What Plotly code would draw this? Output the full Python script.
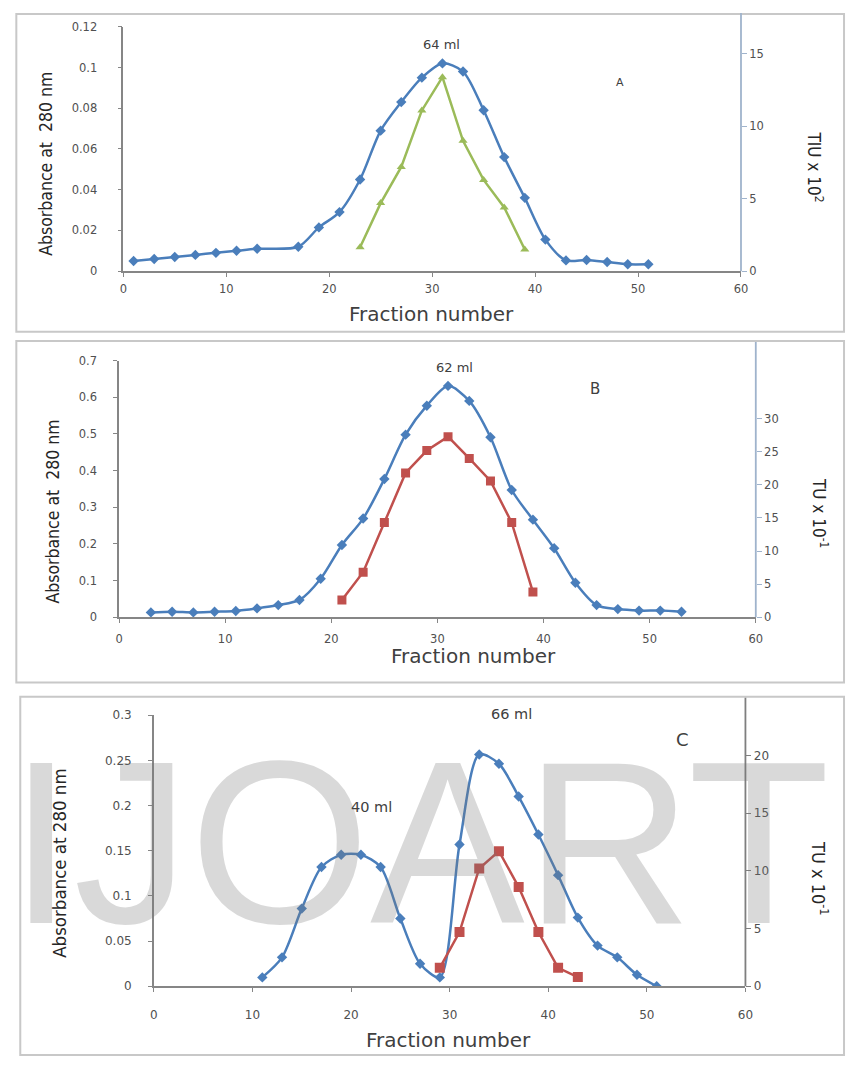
import plotly.graph_objects as go

W, H = 854, 1066

# ---------------- data ----------------
# Panel A
a_abs_x = [1, 3, 5, 7, 9, 11, 13, 17, 19, 21, 23, 25, 27, 29, 31, 33, 35, 37, 39, 41, 43, 45, 47, 49, 51]
a_abs_y = [0.005, 0.006, 0.007, 0.008, 0.009, 0.010, 0.011, 0.012, 0.0215, 0.029, 0.045, 0.069, 0.083,
           0.095, 0.102, 0.098, 0.079, 0.056, 0.036, 0.0155, 0.0053, 0.0055, 0.0045, 0.0034, 0.0034]
a_act_x = [23, 25, 27, 29, 31, 33, 35, 37, 39]
a_act_y = [1.65, 4.7, 7.2, 11.1, 13.4, 9.0, 6.3, 4.4, 1.5]

# Panel B
b_abs_x = [3, 5, 7, 9, 11, 13, 15, 17, 19, 21, 23, 25, 27, 29, 31, 33, 35, 37, 39, 41, 43, 45, 47, 49, 51, 53]
b_abs_y = [0.013, 0.015, 0.013, 0.015, 0.017, 0.024, 0.033, 0.047, 0.105, 0.197, 0.269, 0.377, 0.498,
           0.577, 0.631, 0.590, 0.491, 0.347, 0.266, 0.188, 0.094, 0.033, 0.022, 0.018, 0.018, 0.015]
b_act_x = [21, 23, 25, 27, 29, 31, 33, 35, 37, 39]
b_act_y = [2.6, 6.8, 14.3, 21.8, 25.2, 27.3, 24.0, 20.6, 14.3, 3.8]

# Panel C
c_abs_x = [11, 13, 15, 17, 19, 21, 23, 25, 27, 29, 31, 33, 35, 37, 39, 41, 43, 45, 47, 49, 51]
c_abs_y = [0.0098, 0.032, 0.086, 0.132, 0.1456, 0.1456, 0.132, 0.075, 0.025, 0.0098, 0.157, 0.2566,
           0.2463, 0.210, 0.168, 0.123, 0.076, 0.045, 0.032, 0.0127, 0.0]
c_act_x = [29, 31, 33, 35, 37, 39, 41, 43]
c_act_y = [1.6, 4.7, 10.2, 11.7, 8.6, 4.7, 1.6, 0.8]

x_ticks = [0, 10, 20, 30, 40, 50, 60]
a_right_ticks = [0, 5, 10, 15]
b_right_ticks = [0, 5, 10, 15, 20, 25, 30]
c_right_ticks = [0, 5, 10, 15, 20]

peak_labels = ["64 ml", "62 ml", "40 ml", "66 ml"]
panel_labels = ["A", "B", "C"]
x_title = "Fraction number"
y_title = "Absorbance at  280 nm"
y_title_c = "Absorbance at 280 nm"
right_titles = ["TIU x 10<sup>2</sup>", "TU x 10<sup>-1</sup>", "TU x 10<sup>-1</sup>"]
watermark = "IJOART"

# ---------------- styling ----------------
BLUE = "#4a7ebb"
GREEN = "#9bbb59"
RED = "#c0504d"
AX = "#868686"
RAX = "#9fb3cc"
TICKC = "#505050"
TFONT = "DejaVu Sans"
NARROW = "Liberation Sans Narrow, DejaVu Sans Condensed, Arial Narrow, sans-serif"
NBSP = "\u00a0"


def px(x):
    return x / W


def py(y):
    return 1 - y / H


fig = go.Figure()

# Panel A traces
fig.add_trace(go.Scatter(x=a_abs_x, y=a_abs_y, xaxis="x", yaxis="y", mode="lines+markers",
                         line=dict(color=BLUE, width=2.5, shape="spline", smoothing=0.8),
                         marker=dict(symbol="diamond", size=8, color=BLUE)))
fig.add_trace(go.Scatter(x=a_act_x, y=a_act_y, xaxis="x", yaxis="y2", mode="lines+markers",
                         line=dict(color=GREEN, width=2.5),
                         marker=dict(symbol="triangle-up", size=8, color=GREEN)))
# Panel B traces
fig.add_trace(go.Scatter(x=b_abs_x, y=b_abs_y, xaxis="x2", yaxis="y3", mode="lines+markers",
                         line=dict(color=BLUE, width=2.5, shape="spline", smoothing=0.8),
                         marker=dict(symbol="diamond", size=8, color=BLUE)))
fig.add_trace(go.Scatter(x=b_act_x, y=b_act_y, xaxis="x2", yaxis="y4", mode="lines+markers",
                         line=dict(color=RED, width=2.5),
                         marker=dict(symbol="square", size=9, color=RED)))
# Panel C traces
fig.add_trace(go.Scatter(x=c_abs_x, y=c_abs_y, xaxis="x3", yaxis="y5", mode="lines+markers",
                         line=dict(color=BLUE, width=2.5, shape="spline", smoothing=0.8),
                         marker=dict(symbol="diamond", size=8, color=BLUE)))
fig.add_trace(go.Scatter(x=c_act_x, y=c_act_y, xaxis="x3", yaxis="y6", mode="lines+markers",
                         line=dict(color=RED, width=2.5),
                         marker=dict(symbol="square", size=10, color=RED)))


def xax(x0, x1, anchor, size=11.5, standoff=6):
    return dict(domain=[px(x0), px(x1)], range=[0, 60], anchor=anchor, tickvals=x_ticks,
                showline=True, linecolor=AX, linewidth=1.5, ticks="outside", ticklen=4,
                tickcolor=AX, showgrid=False, zeroline=False, ticklabelstandoff=standoff,
                tickfont=dict(family=TFONT, size=size, color=TICKC), fixedrange=True)


def yax(y0, y1, rng, dtick, anchor, size=11.5, standoff=14):
    return dict(domain=[py(y1), py(y0)], range=rng, anchor=anchor, dtick=dtick, tick0=0,
                showline=True, linecolor=AX, linewidth=1.5, ticks="outside", ticklen=4,
                tickcolor=AX, showgrid=False, zeroline=False, ticklabelstandoff=standoff,
                tickfont=dict(family=TFONT, size=size, color=TICKC), fixedrange=True)


def ryax(over, anchor, rng, tvals, color, size=11.5, pad=0):
    return dict(overlaying=over, side="right", anchor=anchor, range=rng, tickvals=tvals,
                showline=False, ticks="outside", ticklen=5, tickprefix=NBSP * pad,
                tickcolor=color, showgrid=False, zeroline=False,
                tickfont=dict(family=TFONT, size=size, color=TICKC), fixedrange=True)


# Pixel geometry of the three plot areas
A = dict(x0=121, x1=747.5, y0=20, y1=267.7)
B = dict(x0=116.7, x1=762.5, y0=358.3, y1=618.3)
C = dict(x0=152, x1=752, y0=717.7, y1=992.3)

fig.update_layout(
    width=W, height=H, autosize=False,
    margin=dict(l=0, r=0, t=0, b=0),
    paper_bgcolor="white", plot_bgcolor="rgba(0,0,0,0)",
    showlegend=False,
    xaxis=xax(A["x0"], A["x1"], "y", standoff=2),
    yaxis=yax(A["y0"], A["y1"], [0, 0.12], 0.02, "x", standoff=18),
    yaxis2=ryax("y", "x", [0, 16.88], a_right_ticks, RAX, pad=7),
    xaxis2=xax(B["x0"], B["x1"], "y3", standoff=6),
    yaxis3=yax(B["y0"], B["y1"], [0, 0.7], 0.1, "x2", standoff=14),
    yaxis4=ryax("y3", "x2", [0, 38.8], b_right_ticks, RAX, pad=3),
    xaxis3=xax(C["x0"], C["x1"], "y5", size=12, standoff=13),
    yaxis5=yax(C["y0"], C["y1"], [0, 0.3], 0.05, "x3", size=12, standoff=14),
    yaxis6=ryax("y5", "x3", [0, 23.47], c_right_ticks, "#7f7f7f", size=12, pad=0),
)

shapes = []
# panel borders
for (bx0, by0, bx1, by1) in [(12.5, 7, 852, 329), (12.5, 338.5, 852, 684.5), (16.5, 699, 852, 1062)]:
    shapes.append(dict(type="rect", xref="paper", yref="paper", x0=px(bx0), x1=px(bx1),
                       y0=py(by1), y1=py(by0), line=dict(color="#c8c8c8", width=2),
                       fillcolor="rgba(0,0,0,0)", layer="below"))
# right axis lines, running from the panel top down to the x axis
for (xx, ytop, ybot, col) in [(A["x1"], 6, A["y1"], RAX), (B["x1"], 339.5, B["y1"], RAX),
                              (C["x1"], 700, C["y1"], "#7f7f7f")]:
    shapes.append(dict(type="line", xref="paper", yref="paper", x0=px(xx), x1=px(xx),
                       y0=py(ybot), y1=py(ytop), line=dict(color=col, width=1.8)))
fig.update_layout(shapes=shapes)

ann = []


def txt(x, y, t, size, color="#404040", family=TFONT, angle=0):
    ann.append(dict(x=px(x), y=py(y), xref="paper", yref="paper", text=t, showarrow=False,
                    textangle=angle, font=dict(family=family, size=size, color=color),
                    xanchor="center", yanchor="middle"))


# watermark
ann.append(dict(x=px(421), y=py(847), xref="paper", yref="paper", text=watermark, showarrow=False,
                font=dict(family="Liberation Sans, Arial, sans-serif", size=232,
                          color="rgba(120,120,120,0.28)"),
                xanchor="center", yanchor="middle"))

# peak and panel labels
txt(444, 38, peak_labels[0], 13)
txt(457, 365, peak_labels[1], 13)
txt(373, 811, peak_labels[2], 14.5)
txt(515, 716, peak_labels[3], 14.5)
txt(625, 77, panel_labels[0], 11)
txt(599, 387, panel_labels[1], 15)
txt(688, 742, panel_labels[2], 18)

# x titles
txt(433.5, 311.5, x_title, 20)
txt(476, 658, x_title, 20)
txt(451, 1046.5, x_title, 20)

# left y titles
txt(42.5, 159, y_title, 17.5, color="#262626", family=NARROW, angle=-90)
txt(50, 511, y_title, 17.5, color="#262626", family=NARROW, angle=-90)
txt(56, 868, y_title_c, 18.5, color="#262626", family=NARROW, angle=-90)

# right y titles
txt(823, 162, right_titles[0], 17, color="#262626", family=NARROW, angle=90)
txt(827, 513, right_titles[1], 17, color="#262626", family=NARROW, angle=90)
txt(827, 883, right_titles[2], 18, color="#262626", family=NARROW, angle=90)

fig.update_layout(annotations=ann)

fig.write_html("out.html")
